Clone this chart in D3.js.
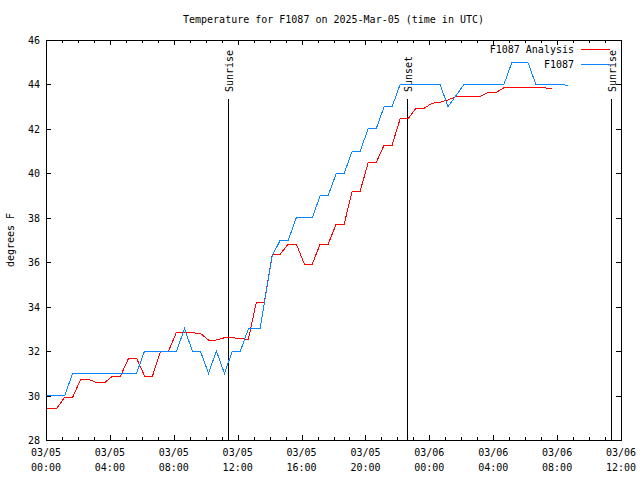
<!DOCTYPE html>
<html><head><meta charset="utf-8">
<script src="https://cdn.jsdelivr.net/npm/d3@7"></script>
<style>
body{margin:0;background:#fff;}
svg{display:block;}
text{font-family:"DejaVu Sans Mono","Liberation Mono",monospace;font-size:10px;fill:#000;}
</style></head>
<body>
<svg id="chart" width="640" height="480"></svg>
<script>
// ---- data (hours after 2025-03-05 00:00 UTC) ----
const title = "Temperature for F1087 on 2025-Mar-05 (time in UTC)";
const yLabel = "degrees F";
const seriesNames = ["F1087 Analysis", "F1087"];
const analysisHours = [0,0.17,0.67,1.17,1.67,2.17,2.67,3.17,3.67,4.17,4.67,5.17,5.67,6.17,6.67,7.17,7.67,8.17,8.67,9.17,9.67,10.17,10.67,11.17,11.67,12.17,12.67,13.17,13.67,14.17,14.67,15.17,15.67,16.17,16.67,17.17,17.67,18.17,18.67,19.17,19.67,20.17,20.67,21.17,21.67,22.17,22.67,23.17,23.67,24.17,24.67,25.17,25.67,26.17,26.67,27.17,27.67,28.17,28.67,29.17,29.67,30.17,30.67,31.17,31.67];
const analysisTemps = [29.42,29.42,29.42,29.92,29.92,30.73,30.73,30.58,30.58,30.88,30.88,31.68,31.68,30.88,30.88,32.0,32.0,32.85,32.85,32.82,32.8,32.5,32.5,32.6,32.6,32.57,32.53,34.2,34.2,36.37,36.37,36.82,36.82,35.92,35.92,36.82,36.82,37.72,37.72,39.2,39.2,40.48,40.48,41.27,41.27,42.45,42.45,42.93,42.93,43.15,43.2,43.3,43.45,43.45,43.45,43.45,43.63,43.63,43.85,43.85,43.85,43.85,43.85,43.85,43.81];
const obsHours = [0,0.17,0.67,1.17,1.67,2.17,2.67,3.17,3.67,4.17,4.67,5.17,5.67,6.17,6.67,7.17,7.67,8.17,8.67,9.17,9.67,10.17,10.67,11.17,11.67,12.17,12.67,13.4,14.17,14.67,15.17,15.67,16.17,16.67,17.17,17.67,18.17,18.67,19.17,19.67,20.17,20.67,21.17,21.67,22.17,22.67,23.17,23.67,24.17,24.67,25.17,26.17,26.67,27.17,27.67,28.17,28.67,29.17,29.67,30.17,30.67,31.17,31.67,32.67];
const obsTemps = [30,30,30,30,31,31,31,31,31,31,31,31,31,32,32,32,32,32,33,32,32,31,32,31,32,32,33,33,36.3,37,37,38,38,38,39,39,40,40,41,41,42,42,43,43,44,44,44,44,44,44,43,44,44,44,44,44,44,45,45,45,44,44,44,43.97];
const sunEvents = [{label:"Sunrise", hour:11.4},{label:"Sunset", hour:22.6},{label:"Sunrise", hour:35.38}];
const yTicks = [28,30,32,34,36,38,40,42,44,46];
const colors = ["#ff0000", "#0a84ff"];

// ---- layout ----
const svg = d3.select("#chart");
const M = {left:46, right:621, top:40, bottom:440};
const t0 = Date.UTC(2025,2,5,0,0);
const toDate = h => new Date(t0 + h*3600e3);
const x = d3.scaleUtc().domain([toDate(0), toDate(36)]).range([M.left, M.right]);
const y = d3.scaleLinear().domain([28,46]).range([M.bottom, M.top]);

// title (centred over plot area)
svg.append("text").attr("x",(M.left+M.right)/2).attr("y",23).attr("text-anchor","middle").text(title);
// y label
svg.append("text").attr("transform","translate(14,240) rotate(-90)").attr("text-anchor","middle").text(yLabel);

const majorTicks = d3.range(0,37,4).map(toDate);
const minorTicks = d3.range(0,37,1).map(toDate);

const tickG = svg.append("g").attr("stroke","#000").attr("stroke-width",1).attr("shape-rendering","crispEdges");
minorTicks.forEach(d=>{
  const major = (d.getUTCHours()%4===0);
  const len = major?5:3;
  const xx = Math.round(x(d))+0.5;
  tickG.append("line").attr("x1",xx).attr("x2",xx).attr("y1",M.bottom).attr("y2",M.bottom-len);
  tickG.append("line").attr("x1",xx).attr("x2",xx).attr("y1",M.top).attr("y2",M.top+len);
});
yTicks.forEach(v=>{
  const yy = Math.round(y(v))+0.5;
  tickG.append("line").attr("x1",M.left).attr("x2",M.left+5).attr("y1",yy).attr("y2",yy);
  tickG.append("line").attr("x1",M.right).attr("x2",M.right-5).attr("y1",yy).attr("y2",yy);
});

// tick labels
const fmtD = d3.utcFormat("%m/%d"), fmtT = d3.utcFormat("%H:%M");
majorTicks.forEach(d=>{
  svg.append("text").attr("x",x(d)).attr("y",456).attr("text-anchor","middle").text(fmtD(d));
  svg.append("text").attr("x",x(d)).attr("y",471).attr("text-anchor","middle").text(fmtT(d));
});
yTicks.forEach(v=>{
  svg.append("text").attr("x",40).attr("y",y(v)+4).attr("text-anchor","end").text(v);
});

// sun lines
sunEvents.forEach(s=>{
  const xx = Math.round(x(toDate(s.hour)))+0.5;
  svg.append("line").attr("x1",xx).attr("x2",xx).attr("y1",99).attr("y2",M.bottom)
    .attr("stroke","#000").attr("shape-rendering","crispEdges");
  svg.append("text").attr("transform",`translate(${xx+4},92) rotate(-90)`).attr("text-anchor","start").text(s.label);
});

// series
const line = d3.line().x(d=>x(toDate(d[0]))).y(d=>y(d[1]));
const data = [d3.zip(analysisHours, analysisTemps), d3.zip(obsHours, obsTemps)];
data.forEach((d,i)=>{
  svg.append("path").datum(d).attr("d",line).attr("fill","none").attr("stroke",colors[i])
    .attr("stroke-width",1).attr("shape-rendering","crispEdges");
});

// legend
seriesNames.forEach((n,i)=>{
  const yy = 49 + i*15;
  svg.append("text").attr("x",574).attr("y",yy+4).attr("text-anchor","end").text(n);
  svg.append("line").attr("x1",581).attr("x2",610).attr("y1",yy+0.5).attr("y2",yy+0.5)
    .attr("stroke",colors[i]).attr("shape-rendering","crispEdges");
});

// border
svg.append("rect").attr("x",M.left+0.5).attr("y",M.top+0.5).attr("width",M.right-M.left).attr("height",M.bottom-M.top)
  .attr("fill","none").attr("stroke","#000").attr("shape-rendering","crispEdges");
</script>
</body></html>
